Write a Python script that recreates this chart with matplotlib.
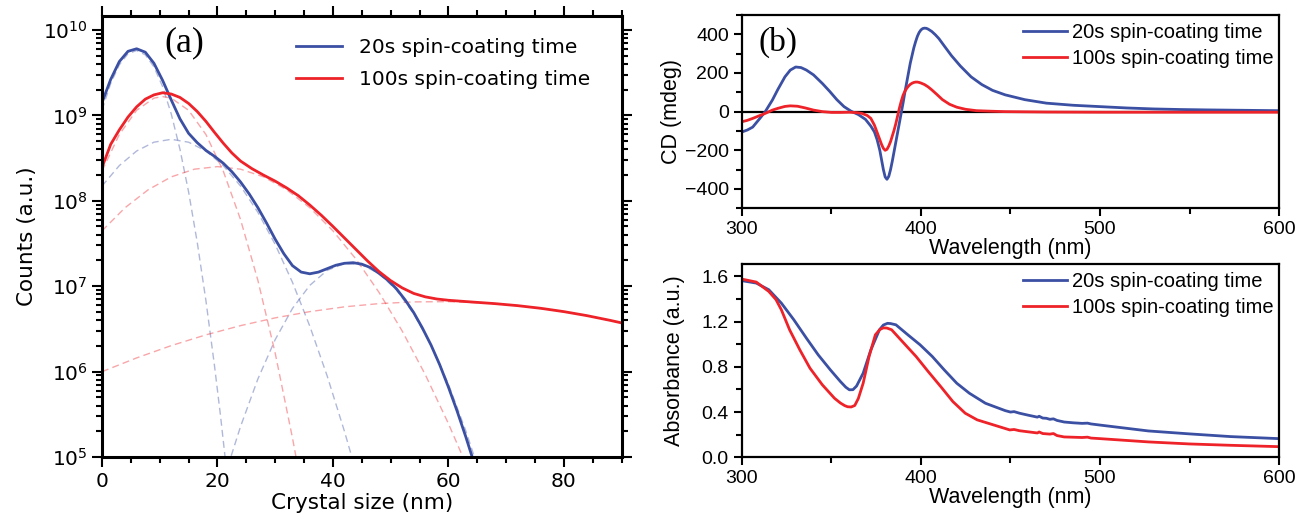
import numpy as np
import matplotlib
matplotlib.use("Agg")
import matplotlib.pyplot as plt
from matplotlib.ticker import MultipleLocator, LogLocator, NullFormatter

# ---------------- data: panel (a), log10(counts) vs crystal size (nm) ----------------
size_20s = [0, 1.5, 3, 4.5, 6, 7.5, 9, 10.5, 12, 13.5, 15, 16.5, 18, 19.5, 21, 22.5,
            24, 25.5, 27, 28.5, 30, 31.5, 33, 34.5, 36, 37.5, 39, 40.5, 42, 43.5, 45,
            46.5, 48, 49.5, 51, 52.5, 54, 55.5, 57, 58.5, 60, 61.5, 63, 64.5]
logc_20s = [9.15, 9.42, 9.63, 9.75, 9.78, 9.74, 9.61, 9.41, 9.18, 8.96, 8.79, 8.68,
            8.59, 8.52, 8.44, 8.34, 8.22, 8.08, 7.92, 7.74, 7.55, 7.38, 7.24, 7.165,
            7.145, 7.165, 7.205, 7.245, 7.268, 7.275, 7.258, 7.218, 7.15, 7.07, 6.97, 6.84,
            6.69, 6.51, 6.31, 6.08, 5.82, 5.54, 5.24, 4.92]

size_100s = [0, 1.5, 3, 4.5, 6, 7.5, 9, 10.5, 12, 13.5, 15, 16.5, 18, 19.5, 21, 22.5,
             24, 26, 28, 30, 32, 34, 36, 38, 40, 42, 44, 46, 48, 50, 52, 54, 56, 58,
             60, 64, 68, 72, 76, 80, 84, 88, 90]
logc_100s = [8.39, 8.66, 8.83, 8.98, 9.10, 9.19, 9.24, 9.265, 9.25, 9.21, 9.14, 9.045,
             8.93, 8.80, 8.675, 8.56, 8.465, 8.375, 8.30, 8.23, 8.15, 8.06, 7.95, 7.83,
             7.70, 7.565, 7.43, 7.295, 7.17, 7.065, 6.98, 6.915, 6.875, 6.85, 6.835,
             6.815, 6.796, 6.772, 6.741, 6.702, 6.655, 6.60, 6.57]

# fitted components (dashed)
b1_x = [0, 1.5, 3, 4.5, 6, 7.5, 9, 10.5, 12, 13.5, 15, 16.5, 18, 19.5, 20.5, 21.5]
b1_y = [9.064, 9.373, 9.592, 9.721, 9.76, 9.709, 9.568, 9.337, 9.016, 8.605, 8.104,
        7.513, 6.832, 6.061, 5.50, 4.89]
b2_x = [0, 3, 6, 9, 12, 15, 18, 21, 24, 27, 30, 33, 36, 39, 42, 44]
b2_y = [8.173, 8.412, 8.583, 8.686, 8.72, 8.686, 8.583, 8.412, 8.173, 7.865, 7.489,
        7.044, 6.531, 5.95, 5.30, 4.83]
b3_x = [21.8, 24, 27, 30, 33, 36, 39, 42, 45, 48, 51, 54, 57, 60, 63, 65]
b3_y = [4.89, 5.357, 5.913, 6.374, 6.74, 7.01, 7.185, 7.265, 7.25, 7.148, 6.956,
        6.677, 6.31, 5.854, 5.31, 4.90]
r1_x = [0, 3, 6, 9, 10.5, 12, 15, 18, 21, 24, 27, 30, 33, 34]
r1_y = [8.349, 8.776, 9.06, 9.202, 9.22, 9.202, 9.06, 8.776, 8.349, 7.78, 7.069,
        6.216, 5.221, 4.857]
r2_x = [0, 4, 8, 12, 16, 20, 24, 28, 32, 36, 40, 44, 48, 52, 56, 60, 63]
r2_y = [7.648, 7.919, 8.129, 8.28, 8.37, 8.40, 8.37, 8.28, 8.129, 7.919, 7.648,
        7.317, 6.926, 6.475, 5.964, 5.392, 4.924]
r3_x = [0, 6, 12, 18, 24, 30, 36, 42, 48, 54, 60, 66, 72, 78, 84, 90]
r3_y = [5.999, 6.16, 6.304, 6.43, 6.538, 6.629, 6.702, 6.758, 6.796, 6.816, 6.819,
        6.804, 6.772, 6.722, 6.655, 6.57]

# ---------------- data: panel (b), CD ----------------
cd_wl_20s = [300, 303, 306, 310, 313, 317, 320, 324, 327, 330, 333, 336, 340, 345, 349,
             353, 357, 361, 365, 369, 372, 374, 375.5, 377, 378, 379, 380, 381, 382, 383,
             384, 385, 386, 387, 388, 389, 390, 391, 392, 393, 394, 395, 396, 397, 398,
             399, 400, 401, 402, 403, 404, 406, 408, 410, 413, 417, 422, 428, 434, 440,
             447, 458, 470, 485, 500, 515, 530, 545, 560, 580, 600]
cd_20s = [-105, -95, -80, -35, 0, 60, 114, 180, 215, 231, 228, 215, 190, 145, 105,
          62, 26, 2, -15, -40, -75, -105, -145, -200, -250, -300, -338, -350, -335,
          -300, -255, -205, -155, -105, -55, -5, 45, 100, 150, 200, 250, 290, 330, 362,
          390, 410, 423, 430, 432, 431, 427, 415, 398, 378, 340, 290, 236, 180, 140,
          110, 87, 62, 44, 33, 26, 19, 14, 11, 9, 7, 5]
cd_wl_100s = [300, 303, 306, 310, 313, 317, 320, 324, 327, 331, 335, 340, 345, 350,
              355, 360, 364, 367, 370, 372, 374, 375, 376, 377, 378, 379, 380, 381, 382,
              383, 384, 385, 386, 387, 388, 389, 390, 391, 392, 393, 394, 395, 396, 397,
              398, 399, 400, 402, 404, 406, 409, 412, 416, 420, 425, 431, 440, 447, 470,
              500, 550, 600]
cd_100s = [-52, -45, -35, -20, -9, 8, 17, 27, 30, 28, 20, 8, 0, -4, -4, -3, -5, -9,
           -20, -35, -70, -95, -120, -145, -170, -190, -200, -195, -178, -155, -125, -95,
           -60, -20, 20, 55, 85, 105, 120, 132, 141, 147, 151, 153, 153, 151, 148, 140,
           128, 113, 88, 62, 38, 23, 12, 5, 2, 0, -2, -3, -3, -3]

# ---------------- data: panel (b), absorbance ----------------
abs_wl_20s = [300, 308, 315, 322, 329, 336, 342.6, 349.4, 355, 358, 360, 362, 364,
              367.7, 372, 376.8, 379, 381.3, 383, 386, 392.7, 399.5, 406.3, 413, 420,
              427, 436, 447, 450, 452, 455, 460, 463, 465, 466, 468, 470, 472, 474, 476,
              480, 485, 490, 493, 495, 500, 527, 550, 573, 600]
abs_20s = [1.562, 1.541, 1.482, 1.364, 1.216, 1.054, 0.906, 0.773, 0.670, 0.620, 0.597,
           0.598, 0.630, 0.744, 0.950, 1.128, 1.170, 1.185, 1.183, 1.172, 1.083, 0.995,
           0.892, 0.773, 0.655, 0.567, 0.478, 0.413, 0.400, 0.404, 0.390, 0.372, 0.362,
           0.355, 0.363, 0.347, 0.345, 0.336, 0.340, 0.326, 0.312, 0.305, 0.300, 0.302,
           0.295, 0.285, 0.233, 0.207, 0.183, 0.165]
abs_wl_100s = [300, 308, 315, 319, 322, 326.6, 332.3, 338, 344.9, 351.7, 355, 357.4,
               359, 361, 363, 365, 367.7, 371, 374.5, 377, 379, 381, 383.6, 390.4,
               397.3, 404, 411, 417.8, 424.7, 431.4, 440.6, 449.6, 452, 455, 460, 465,
               466, 468, 472, 474, 476, 480, 490, 493, 495, 500, 527, 550, 573, 600]
abs_100s = [1.576, 1.550, 1.467, 1.395, 1.305, 1.128, 0.951, 0.788, 0.641, 0.522, 0.480,
            0.457, 0.447, 0.445, 0.458, 0.52, 0.655, 0.891, 1.083, 1.130, 1.145, 1.143,
            1.128, 1.010, 0.891, 0.759, 0.626, 0.493, 0.390, 0.331, 0.286, 0.242, 0.246,
            0.235, 0.225, 0.215, 0.224, 0.210, 0.205, 0.210, 0.192, 0.180, 0.175, 0.178,
            0.170, 0.165, 0.136, 0.118, 0.106, 0.094]

labels = ["20s spin-coating time", "100s spin-coating time"]
blue = "#3b4fa3"
red = "#ee2229"

fig = plt.figure(figsize=(12.96, 5.17), dpi=100)

# ================= panel (a) =================
ax = fig.add_axes([0.0787, 0.1161, 0.4009, 0.853])
dash = (0, (5, 3))
for xs, ys in [(b1_x, b1_y), (b2_x, b2_y), (b3_x, b3_y)]:
    ax.plot(xs, 10 ** np.array(ys), color=blue, alpha=0.4, lw=1.0, ls=dash)
for xs, ys in [(r1_x, r1_y), (r2_x, r2_y), (r3_x, r3_y)]:
    ax.plot(xs, 10 ** np.array(ys), color=red, alpha=0.4, lw=1.0, ls=dash)
ax.plot(size_20s, 10 ** np.array(logc_20s), color=blue, lw=2.0, label=labels[0])
ax.plot(size_100s, 10 ** np.array(logc_100s), color=red, lw=2.0, label=labels[1])

ax.set_yscale("log")
ax.set_xlim(0, 90)
ax.set_ylim(1e5, 10 ** 10.164)
ax.xaxis.set_major_locator(MultipleLocator(20))
ax.xaxis.set_minor_locator(MultipleLocator(5))
ax.yaxis.set_major_locator(LogLocator(base=10, numticks=12))
ax.yaxis.set_minor_locator(LogLocator(base=10, subs=np.arange(2, 10), numticks=12))
ax.yaxis.set_minor_formatter(NullFormatter())
ax.tick_params(which="both", direction="out", top=True, right=True, width=1.5,
               labelsize=14.5)
ax.tick_params(which="major", length=7)
ax.tick_params(which="minor", length=4)
for s in ax.spines.values():
    s.set_linewidth(2.2)
ax.set_xlabel("Crystal size (nm)", fontsize=15.5, labelpad=2)
ax.set_ylabel("Counts (a.u.)", fontsize=15.5, labelpad=4)
ax.text(0.121, 0.94, "(a)", transform=ax.transAxes, fontsize=26,
        family="Liberation Serif", va="center", ha="left")
ax.legend(loc="upper left", bbox_to_anchor=(0.373, 0.95), frameon=False,
          fontsize=14.5, handlelength=2.3, handletextpad=0.85, labelspacing=0.65,
          borderpad=0, borderaxespad=0)

# ================= panel (b) =================
sans = "Liberation Sans"


def style_b(a, ylabel, pad):
    a.set_xlim(300, 600)
    a.xaxis.set_major_locator(MultipleLocator(100))
    a.xaxis.set_minor_locator(MultipleLocator(50))
    a.tick_params(which="both", direction="out", width=1.5, labelsize=14)
    a.tick_params(which="major", length=6)
    a.tick_params(which="minor", length=4)
    for s in a.spines.values():
        s.set_linewidth(1.6)
    for t in a.get_xticklabels() + a.get_yticklabels():
        t.set_family(sans)
    a.set_xlabel("Wavelength (nm)", fontsize=15.5, family=sans, labelpad=0)
    a.set_ylabel(ylabel, fontsize=15.5, family=sans, labelpad=pad)
    a.legend(loc="upper left", bbox_to_anchor=(0.523, 0.96), frameon=False,
             prop={"family": sans, "size": 14.5}, handlelength=2.2,
             handletextpad=0.25, labelspacing=0.35, borderpad=0, borderaxespad=0)


ax_cd = fig.add_axes([0.5725, 0.5971, 0.4144, 0.3739])
ax_cd.axhline(0, color="black", lw=1.6, zorder=1)
ax_cd.plot(cd_wl_20s, cd_20s, color=blue, lw=2.0, label=labels[0])
ax_cd.plot(cd_wl_100s, cd_100s, color=red, lw=2.0, label=labels[1])
ax_cd.set_ylim(-500, 500)
ax_cd.yaxis.set_major_locator(MultipleLocator(200))
ax_cd.yaxis.set_minor_locator(MultipleLocator(100))
style_b(ax_cd, "CD (mdeg)", 2)
ax_cd.text(0.03, 0.86, "(b)", transform=ax_cd.transAxes, fontsize=24,
           family="Liberation Serif", va="center", ha="left")

ax_ab = fig.add_axes([0.5725, 0.1155, 0.4144, 0.3739])
ax_ab.plot(abs_wl_20s, abs_20s, color=blue, lw=2.0, label=labels[0])
ax_ab.plot(abs_wl_100s, abs_100s, color=red, lw=2.0, label=labels[1])
ax_ab.set_ylim(0, 1.71)
ax_ab.yaxis.set_major_locator(MultipleLocator(0.4))
ax_ab.yaxis.set_minor_locator(MultipleLocator(0.2))
ax_ab.yaxis.set_major_formatter(plt.FormatStrFormatter("%.1f"))
style_b(ax_ab, "Absorbance (a.u.)", 12)

fig.savefig("out.png", dpi=100)
